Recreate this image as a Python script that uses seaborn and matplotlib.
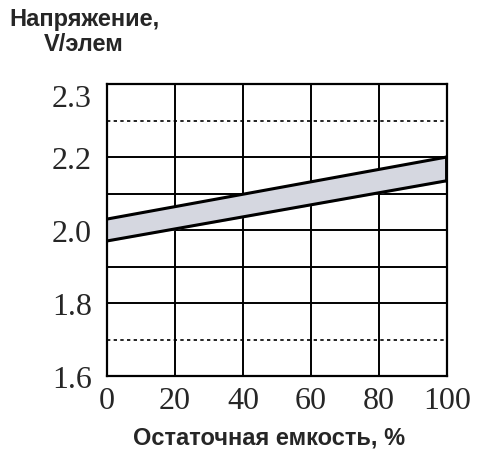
import pandas as pd
import matplotlib
matplotlib.use('Agg')
import matplotlib.pyplot as plt
import seaborn as sns

# data
capacity = [0, 100]
v_upper = [2.03, 2.20]
v_lower = [1.97, 2.135]
x_ticks = [0, 20, 40, 60, 80, 100]
y_ticks = [1.6, 1.8, 2.0, 2.2, 2.4]
y_tick_labels = ['1.6', '1.8', '2.0', '2.2', '2.3']
solid_grid = [1.8, 1.9, 2.0, 2.1, 2.2]
dotted_grid = [1.7, 2.3]

df = pd.DataFrame({'capacity': capacity, 'upper': v_upper, 'lower': v_lower})

sns.set_style('white')
plt.rcParams['font.family'] = ['Liberation Sans', 'DejaVu Sans']

fig, ax = plt.subplots(figsize=(4.9, 4.56), dpi=100)
fig.subplots_adjust(left=0.2184, right=0.912, top=0.8136, bottom=0.1732)

# grid
for x in x_ticks[1:-1]:
    ax.axvline(x, color='black', lw=1.4, zorder=1)
for y in solid_grid:
    ax.axhline(y, color='black', lw=1.4, zorder=1)
for y in dotted_grid:
    ax.axhline(y, color='black', lw=1.2, ls=(0, (2, 2)), zorder=1)

# band
ax.fill_between(df['capacity'], df['lower'], df['upper'], color='#d5d7e0', zorder=2)
sns.lineplot(data=df, x='capacity', y='upper', color='black', lw=2.2, ax=ax, zorder=3)
sns.lineplot(data=df, x='capacity', y='lower', color='black', lw=2.2, ax=ax, zorder=3)
ax.plot([capacity[-1]] * 2, [v_lower[-1], v_upper[-1]], color='black', lw=2.8, zorder=3)

ax.set_xlim(0, 100)
ax.set_ylim(1.6, 2.4)
ax.set_xticks(x_ticks)
ax.set_yticks(y_ticks)
ax.set_yticklabels(y_tick_labels)
ax.tick_params(length=0, labelsize=23)
ax.tick_params(axis='x', pad=7)
ax.tick_params(axis='y', pad=11)
for lab in ax.get_xticklabels() + ax.get_yticklabels():
    lab.set_family('Liberation Serif')
ax.get_yticklabels()[-1].set_va('top')

for s in ax.spines.values():
    s.set_visible(True)
    s.set_color('black')
    s.set_linewidth(1.6)

ax.set_ylabel('')
ax.set_xlabel('Остаточная емкость, %', fontsize=17, fontweight='bold')
ax.xaxis.set_label_coords(0.476, -0.209)
ax.xaxis.label.set_va('center')

fig.text(84 / 490, 1 - 32 / 456, 'Напряжение,\nV/элем', ha='center', va='center',
         multialignment='center', fontsize=17, fontweight='bold', linespacing=1.15)

fig.savefig('out.png', dpi=100)
